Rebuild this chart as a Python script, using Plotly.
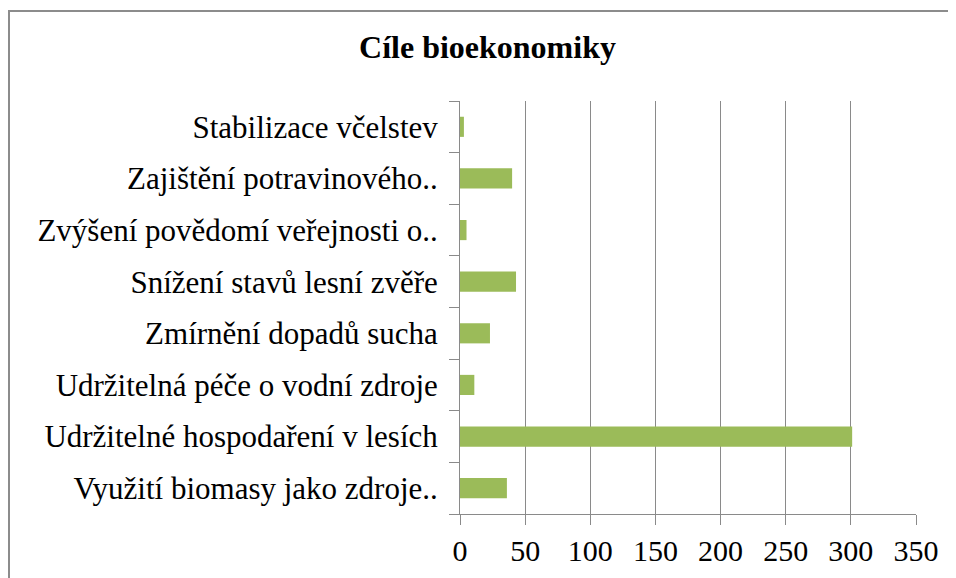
import plotly.graph_objects as go

categories = [
    "Využití biomasy jako zdroje..",
    "Udržitelné hospodaření v lesích",
    "Udržitelná péče o vodní zdroje",
    "Zmírnění dopadů sucha",
    "Snížení stavů lesní zvěře",
    "Zvýšení povědomí veřejnosti o..",
    "Zajištění potravinového..",
    "Stabilizace včelstev",
]
values = [36, 301, 11, 23, 43, 5, 40, 3]
x_ticks = [0, 50, 100, 150, 200, 250, 300, 350]
title_text = "Cíle bioekonomiky"

FONT = "Liberation Serif"
GRID = "#8a8a8a"

# page body has an 8px offset; target coordinates are shifted accordingly
OFF = 8
L, R, T, B = 460 - OFF, 916 - OFF, 101 - OFF, 514 - OFF
W, H = 956, 578
def px_x(p): return (p - OFF - L) / (R - L)
def px_y(p): return (B - (p - OFF)) / (B - T)

fig = go.Figure(go.Bar(
    x=values, y=categories, orientation="h",
    marker=dict(color="#9BBB59", line=dict(width=0)),
))

fig.update_layout(
    width=W, height=H,
    margin=dict(l=L, r=W - R, t=T, b=H - B, pad=0),
    paper_bgcolor="white", plot_bgcolor="white",
    bargap=0.61,
    showlegend=False,
    font=dict(family=FONT, size=31, color="black"),
    title=dict(text="<b>" + title_text + "</b>", x=px_x(487.5), xref="paper", xanchor="center",
               y=1 - (47 - OFF) / H, yanchor="middle",
               font=dict(family=FONT, size=32, color="black")),
    xaxis=dict(range=[0, 350], tickvals=x_ticks, ticktext=[str(v) for v in x_ticks],
               showgrid=True, gridcolor=GRID, gridwidth=1,
               showline=True, linecolor=GRID, linewidth=1,
               ticks="outside", ticklen=10, tickcolor=GRID, tickwidth=1,
               zeroline=False, fixedrange=True,
               tickfont=dict(family=FONT, size=30, color="black")),
    yaxis=dict(type="category", categoryorder="array", categoryarray=categories,
               showgrid=False, showline=True, linecolor=GRID, linewidth=1,
               ticks="outside", ticklen=10, tickcolor=GRID, tickwidth=1,
               tickson="boundaries", ticklabelstandoff=15,
               tickfont=dict(family=FONT, size=31, color="black"), fixedrange=True),
    shapes=[dict(type="rect", xref="paper", yref="paper",
                 x0=px_x(OFF + 1), x1=px_x(W + 30), y0=px_y(H + 30), y1=px_y(11),
                 line=dict(color="#8c8c8c", width=2), fillcolor="rgba(0,0,0,0)", layer="below")],
)

fig.write_html("out.html")
